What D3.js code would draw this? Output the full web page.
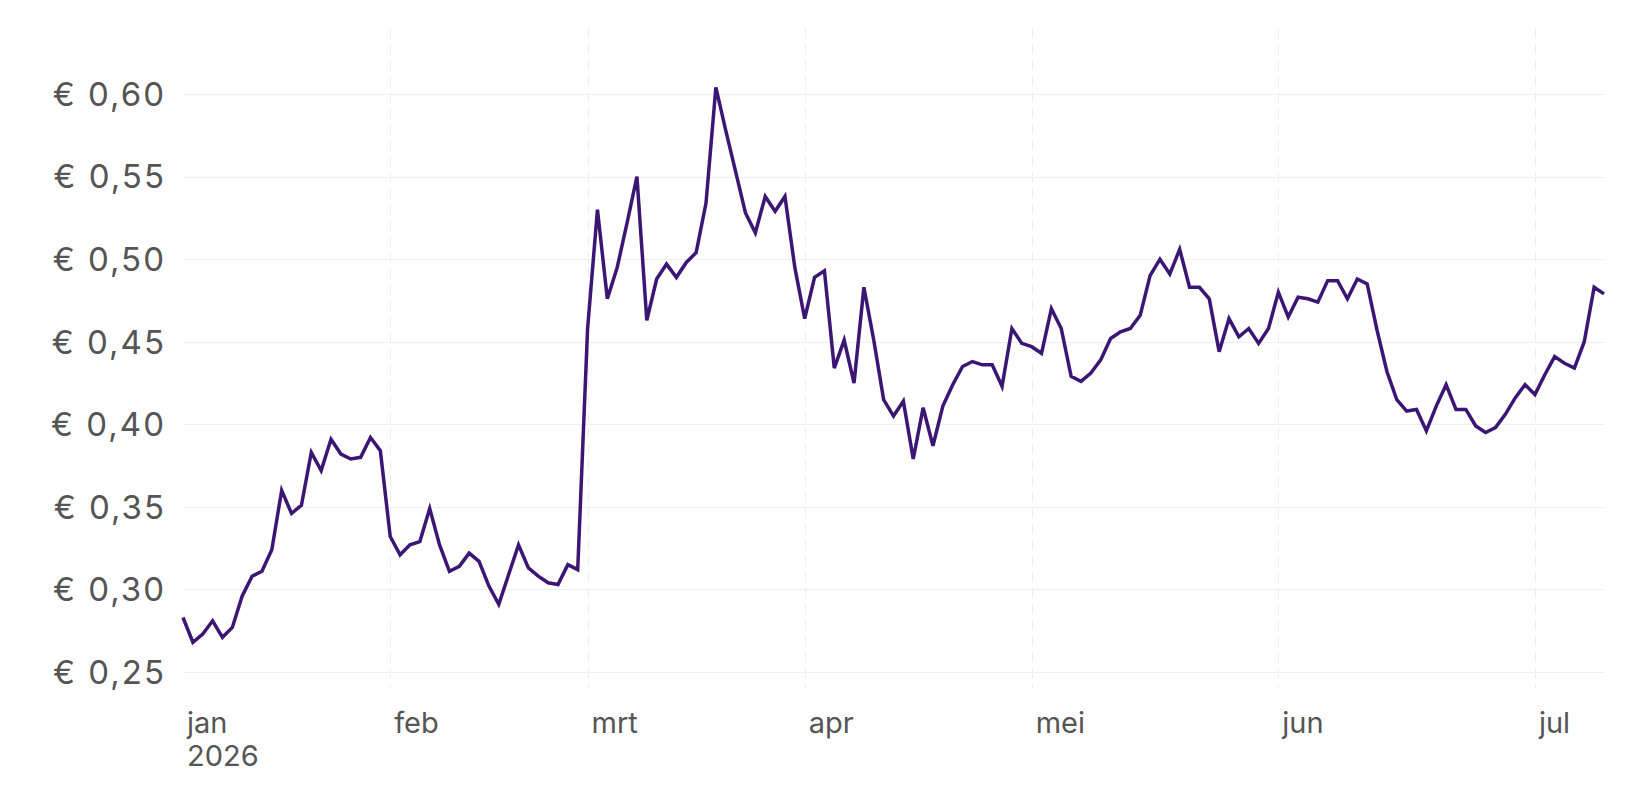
<!DOCTYPE html>
<html lang="nl">
<head>
	<meta charset="utf-8">
	<title>Koers</title>
	<script src="https://d3js.org/d3.v7.min.js" charset="utf-8"></script>
	<style>
		body { margin: 0; background: #fff; }
		text {
			font-family: "Inter", "Lato", sans-serif;
			fill: #555;
		}
	</style>
</head>
<body>
	<div id="chart"></div>
<script>
	// price per trading day, starting early january 2026
	var prices = [
		0.283, 0.268, 0.273, 0.281, 0.271, 0.277, 0.296, 0.308, 0.311, 0.324,
		0.360, 0.346, 0.351, 0.383, 0.372, 0.391, 0.382, 0.379, 0.380, 0.392,
		0.384, 0.332, 0.321, 0.327, 0.329, 0.349, 0.327, 0.311, 0.314, 0.322,
		0.317, 0.302, 0.291, 0.309, 0.327, 0.313, 0.308, 0.304, 0.303, 0.315,
		0.312, 0.458, 0.530, 0.476, 0.495, 0.522, 0.550, 0.463, 0.488, 0.497,
		0.489, 0.498, 0.504, 0.534, 0.604, 0.578, 0.553, 0.528, 0.516, 0.538,
		0.529, 0.538, 0.495, 0.464, 0.489, 0.493, 0.434, 0.451, 0.425, 0.483,
		0.451, 0.415, 0.405, 0.414, 0.379, 0.410, 0.387, 0.411, 0.424, 0.435,
		0.438, 0.436, 0.436, 0.423, 0.458, 0.449, 0.447, 0.443, 0.470, 0.458,
		0.429, 0.426, 0.431, 0.439, 0.452, 0.456, 0.458, 0.466, 0.490, 0.500,
		0.491, 0.506, 0.483, 0.483, 0.476, 0.444, 0.464, 0.453, 0.458, 0.449,
		0.458, 0.480, 0.465, 0.477, 0.476, 0.474, 0.487, 0.487, 0.476, 0.488,
		0.485, 0.457, 0.432, 0.415, 0.408, 0.409, 0.396, 0.411, 0.424, 0.409,
		0.409, 0.399, 0.395, 0.398, 0.406, 0.416, 0.424, 0.418, 0.430, 0.441,
		0.437, 0.434, 0.450, 0.483, 0.479
	];

	// month labels and the index of the point where each month starts
	var monthLabels = ["jan", "feb", "mrt", "apr", "mei", "jun", "jul"];
	var monthStart = [0, 21, 41, 63, 86, 111, 137];
	var yTicks = [0.25, 0.30, 0.35, 0.40, 0.45, 0.50, 0.55, 0.60];

	var w = 1652;
	var h = 799;

	var svg = d3.select("#chart")
		.append("svg")
		.attr("width", w)
		.attr("height", h);

	var x = d3.scaleLinear()
		.domain([0, prices.length - 1])
		.range([183, 1604]);

	var y = d3.scaleLinear()
		.domain([0.24, 0.64])
		.range([688.5, 28]);

	var nl = d3.formatLocale({
		decimal: ",",
		thousands: ".",
		grouping: [3],
		currency: ["€ ", ""]
	});
	var euro = nl.format("$.2f");

	// horizontal grid
	svg.append("g")
		.selectAll("line")
		.data(yTicks)
		.enter()
		.append("line")
		.attr("x1", x.range()[0])
		.attr("x2", x.range()[1])
		.attr("y1", function(d){ return Math.round(y(d)) + 0.5; })
		.attr("y2", function(d){ return Math.round(y(d)) + 0.5; })
		.attr("stroke", "#efefef")
		.attr("stroke-width", 1);

	// vertical dashed month lines (none on the first month)
	svg.append("g")
		.selectAll("line")
		.data(monthStart.slice(1))
		.enter()
		.append("line")
		.attr("x1", function(d){ return Math.round(x(d)) + 0.5; })
		.attr("x2", function(d){ return Math.round(x(d)) + 0.5; })
		.attr("y1", y.range()[1])
		.attr("y2", y.range()[0])
		.attr("stroke", "#eeeeee")
		.attr("stroke-width", 1)
		.attr("stroke-dasharray", "10,6");

	// y labels
	svg.append("g")
		.selectAll("text")
		.data(yTicks)
		.enter()
		.append("text")
		.attr("x", 166)
		.attr("y", function(d){ return y(d); })
		.attr("dy", "0.36em")
		.attr("text-anchor", "end")
		.attr("font-size", "33px")
		.attr("letter-spacing", "2px")
		.text(function(d){ return euro(d); });

	// x labels
	svg.append("g")
		.selectAll("text")
		.data(monthStart)
		.enter()
		.append("text")
		.attr("x", function(d){ return x(d) + 4; })
		.attr("y", 733)
		.attr("font-size", "29px")
		.text(function(d, i){ return monthLabels[i]; });

	svg.append("text")
		.attr("x", x(monthStart[0]) + 4)
		.attr("y", 766)
		.attr("font-size", "29px")
		.text("2026");

	// price line
	var line = d3.line()
		.x(function(d, i){ return x(i); })
		.y(function(d){ return y(d); });

	svg.append("path")
		.datum(prices)
		.attr("d", line)
		.attr("fill", "none")
		.attr("stroke", "#3b1675")
		.attr("stroke-width", 3.5);
</script>
</body>
</html>
